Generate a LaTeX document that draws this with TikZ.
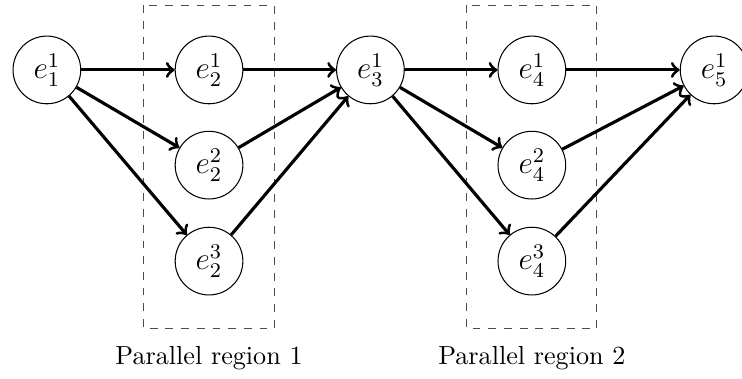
\documentclass[tikz,border=0pt]{standalone}
\usetikzlibrary{calc}
\colorlet{region edge}{black!70}
\tikzset{state/.style={circle, draw, minimum size=0.91cm, inner sep=0pt, font=\large},
	flow/.style={->, very thick},
	region/.style={draw=region edge, dashed}}

\begin{document}
\begin{tikzpicture}
\useasboundingbox (-0.63,0.94) rectangle (9.345,-4.153);

\node[state] (e11) at (0,0) {$e_1^1$};
\node[state] (e21) at (2.18,0) {$e_2^1$};
\node[state] (e22) at (2.18,-1.28) {$e_2^2$};
\node[state] (e23) at (2.18,-2.57) {$e_2^3$};
\node[state] (e31) at (4.35,0) {$e_3^1$};
\node[state] (e41) at (6.52,0) {$e_4^1$};
\node[state] (e42) at (6.52,-1.28) {$e_4^2$};
\node[state] (e43) at (6.52,-2.57) {$e_4^3$};
\node[state] (e51) at (8.97,0) {$e_5^1$};

% parallel regions
\draw[region] ($(e21.center)+(-0.875,0.87)$) rectangle ($(e23.center)+(0.875,-0.91)$);
\draw[region] ($(e41.center)+(-0.875,0.87)$) rectangle ($(e43.center)+(0.875,-0.91)$);
\node (lab1) at ($(e23)+(0,-1.3)$) {Parallel region 1};
\node (lab2) at ($(e43)+(0,-1.3)$) {Parallel region 2};

\draw[flow] (e11) -- (e21);
\draw[flow] (e11) -- (e22);
\draw[flow] (e11) -- (e23);
\draw[flow] (e21) -- (e31);
\draw[flow] (e22) -- (e31);
\draw[flow] (e23) -- (e31);
\draw[flow] (e31) -- (e41);
\draw[flow] (e31) -- (e42);
\draw[flow] (e31) -- (e43);
\draw[flow] (e41) -- (e51);
\draw[flow] (e42) -- (e51);
\draw[flow] (e43) -- (e51);
%\node[anchor=south] at (current bounding box.north) {};

\end{tikzpicture}
\end{document}
